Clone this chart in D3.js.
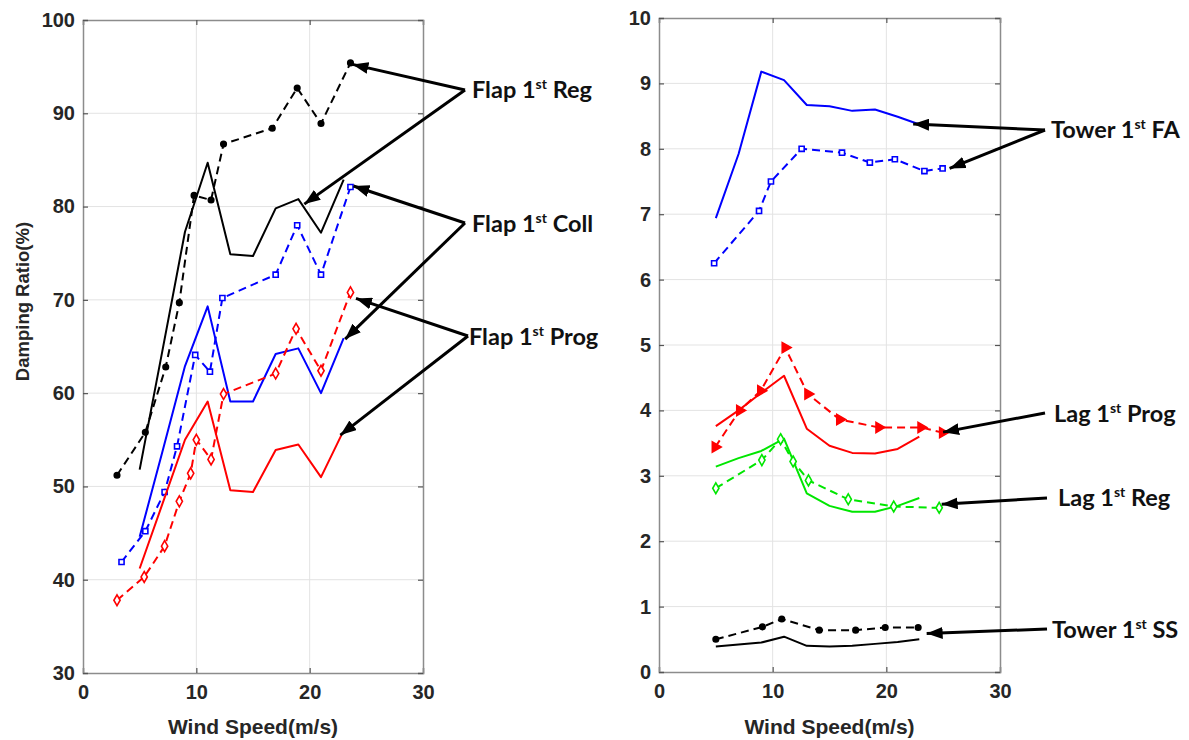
<!DOCTYPE html>
<html><head><meta charset="utf-8">
<script src="https://cdn.jsdelivr.net/npm/d3@7"></script>
<style>
html,body{margin:0;padding:0;background:#fff;}
svg{display:block;}
</style></head>
<body>
<svg id="chart" width="1189" height="740"></svg>
<script>
// ---------- DATA (left panel: Damping Ratio %) ----------
const xTicks = [0, 10, 20, 30];
const leftYTicks = [30, 40, 50, 60, 70, 80, 90, 100];
const rightYTicks = [0,1,2,3,4,5,6,7,8,9,10];

const flapRegDashX  = [3, 5.5, 7.3, 8.5, 9.8, 11.3, 12.4, 16.7, 18.9, 21, 23.6];
const flapRegDashY  = [51.2, 55.8, 62.8, 69.7, 81.2, 80.7, 86.7, 88.4, 92.7, 88.9, 95.4];
const flapRegSolidX = [5, 7, 9, 11, 13, 15, 17, 19, 21, 23];
const flapRegSolidY = [51.8, 64.5, 77.3, 84.7, 74.9, 74.7, 79.8, 80.8, 77.2, 82.9];

const flapCollDashX  = [3.4, 5.5, 7.2, 8.3, 9.9, 11.2, 12.3, 17, 18.9, 21, 23.6];
const flapCollDashY  = [41.9, 45.2, 49.4, 54.3, 64.1, 62.3, 70.2, 72.7, 78.0, 72.7, 82.1];
const flapCollSolidX = [5, 7, 9, 11, 13, 15, 17, 19, 21, 23];
const flapCollSolidY = [44.6, 53.7, 62.9, 69.3, 59.1, 59.1, 64.2, 64.8, 60.0, 65.9];

const flapProgDashX  = [3, 5.4, 7.2, 8.5, 9.5, 10, 11.3, 12.4, 17, 18.8, 21, 23.6];
const flapProgDashY  = [37.8, 40.3, 43.6, 48.4, 51.4, 55.0, 52.9, 59.9, 62.1, 66.9, 62.4, 70.8];
const flapProgSolidX = [5, 7, 9, 11, 13, 15, 17, 19, 21, 22.8];
const flapProgSolidY = [41.2, 48.1, 55.0, 59.1, 49.6, 49.4, 53.9, 54.5, 51.0, 55.5];

// ---------- DATA (right panel) ----------
const towerFASolidX = [5, 7, 9, 11, 13, 15, 17, 19, 21, 22.8];
const towerFASolidY = [6.94, 7.92, 9.18, 9.05, 8.67, 8.65, 8.58, 8.60, 8.49, 8.38];
const towerFADashX  = [4.85, 8.8, 9.85, 12.55, 16.1, 18.55, 20.75, 23.35, 24.95];
const towerFADashY  = [6.25, 7.05, 7.50, 8.00, 7.94, 7.79, 7.84, 7.66, 7.70];

const lagProgSolidX = [5, 7, 9, 11, 13, 15, 17, 19, 21, 22.9];
const lagProgSolidY = [3.76, 4.00, 4.27, 4.53, 3.72, 3.46, 3.35, 3.34, 3.41, 3.60];
const lagProgDashX  = [4.95, 7.1, 8.95, 11.1, 13.1, 15.9, 19.35, 23.05, 24.95];
const lagProgDashY  = [3.44, 4.00, 4.30, 4.96, 4.25, 3.86, 3.74, 3.74, 3.66];

const lagRegSolidX = [5, 7, 9, 11, 13, 15, 17, 19, 21, 22.9];
const lagRegSolidY = [3.14, 3.27, 3.38, 3.57, 2.73, 2.54, 2.45, 2.45, 2.54, 2.66];
const lagRegDashX  = [5, 9.05, 10.7, 11.8, 13.15, 16.65, 20.65, 24.65];
const lagRegDashY  = [2.81, 3.24, 3.56, 3.22, 2.93, 2.64, 2.53, 2.51];

const towerSSSolidX = [5, 7, 9, 11, 13, 15, 17, 19, 21, 22.9];
const towerSSSolidY = [0.39, 0.42, 0.45, 0.54, 0.40, 0.39, 0.40, 0.43, 0.46, 0.50];
const towerSSDashX  = [5, 9.1, 10.8, 14.1, 17.3, 19.9, 22.8];
const towerSSDashY  = [0.50, 0.69, 0.81, 0.64, 0.64, 0.68, 0.68];

const labelNames = ["Flap", "Flap", "Flap", "Tower", "Lag", "Lag", "Tower"];
const labelTails = ["Reg", "Coll", "Prog", "FA", "Prog", "Reg", "SS"];

// ---------- RENDER ----------
const svg = d3.select("#chart");
const zip = (xs, ys) => xs.map((x, i) => [x, ys[i]]);
const AXFONT = "Arial, 'Liberation Sans', Helvetica, sans-serif";

const defs = svg.append("defs");
defs.append("marker").attr("id", "arrow")
  .attr("markerUnits", "userSpaceOnUse")
  .attr("viewBox", "0 0 16 12").attr("refX", 16).attr("refY", 6)
  .attr("markerWidth", 16).attr("markerHeight", 12).attr("orient", "auto")
  .append("path").attr("d", "M0,0 L16,6 L0,12 Z").attr("fill", "#000");

function panel(cfg) {
  const x = d3.scaleLinear().domain([0, 30]).range([cfg.x0, cfg.x1]);
  const y = d3.scaleLinear().domain(cfg.yDomain).range([cfg.y0, cfg.y1]);
  const g = svg.append("g");
  // grid
  g.append("g").selectAll("line").data(xTicks.slice(1, -1)).join("line")
    .attr("x1", d => x(d)).attr("x2", d => x(d)).attr("y1", cfg.y0).attr("y2", cfg.y1)
    .attr("stroke", "#e3e3e3").attr("stroke-width", 1);
  g.append("g").selectAll("line").data(cfg.yTicks.slice(1, -1)).join("line")
    .attr("y1", d => y(d)).attr("y2", d => y(d)).attr("x1", cfg.x0).attr("x2", cfg.x1)
    .attr("stroke", "#e3e3e3").attr("stroke-width", 1);
  // axes via d3
  const tk = 5;
  const ax = g.append("g").attr("transform", `translate(0,${cfg.y0})`)
    .call(d3.axisBottom(x).tickValues(xTicks).tickSize(-tk).tickPadding(12).tickFormat(d3.format("d")));
  const axT = g.append("g").attr("transform", `translate(0,${cfg.y1})`)
    .call(d3.axisTop(x).tickValues(xTicks).tickSize(-tk).tickFormat(""));
  const ay = g.append("g").attr("transform", `translate(${cfg.x0},0)`)
    .call(d3.axisLeft(y).tickValues(cfg.yTicks).tickSize(-tk).tickPadding(8).tickFormat(d3.format("d")));
  const ayR = g.append("g").attr("transform", `translate(${cfg.x1},0)`)
    .call(d3.axisRight(y).tickValues(cfg.yTicks).tickSize(-tk).tickFormat(""));
  [ax, axT, ay, ayR].forEach(a => {
    a.attr("font-family", AXFONT).attr("font-size", 20).attr("font-weight", "bold");
    a.select(".domain").attr("stroke", "#8c8c8c").attr("stroke-width", 1.5);
    a.selectAll(".tick line").attr("stroke", "#555").attr("stroke-width", 1.2);
    a.selectAll("text").attr("fill", "#262626");
  });
  ax.selectAll("text").attr("dy", "0.71em");
  // x label
  g.append("text").attr("x", (cfg.x0 + cfg.x1) / 2).attr("y", 734)
    .attr("text-anchor", "middle").attr("fill", "#262626")
    .attr("font-family", AXFONT).attr("font-weight", "bold").attr("font-size", 21)
    .text("Wind Speed(m/s)");
  if (cfg.yLabel) {
    g.append("text").attr("transform", `translate(29,${(cfg.y0 + cfg.y1) / 2 - 45}) rotate(-90)`)
      .attr("text-anchor", "middle").attr("fill", "#262626")
      .attr("font-family", AXFONT).attr("font-weight", "bold").attr("font-size", 18.5)
      .text(cfg.yLabel);
  }
  const line = d3.line().x(d => x(d[0])).y(d => y(d[1]));
  const plot = g.append("g");
  cfg.series.forEach(s => {
    const pts = zip(s.xs, s.ys);
    plot.append("path").attr("d", line(pts)).attr("fill", "none")
      .attr("stroke", s.color).attr("stroke-width", 2)
      .attr("stroke-dasharray", s.dash ? "8,5" : null)
      .attr("stroke-linejoin", "round");
    if (s.marker) {
      const sym = d3.symbol().type(s.marker).size(s.msize);
      plot.selectAll(null).data(pts).join("path")
        .attr("transform", d => `translate(${x(d[0])},${y(d[1])}) rotate(${s.rot || 0})`)
        .attr("d", sym())
        .attr("fill", s.fill ? s.color : "#fff")
        .attr("stroke", s.color).attr("stroke-width", 1.6);
    }
  });
  return {x, y, g};
}

const L = panel({
  x0: 83, x1: 423, y0: 673, y1: 20, yDomain: [30, 100], yTicks: leftYTicks,
  yLabel: "Damping Ratio(%)",
  series: [
    {xs: flapRegSolidX, ys: flapRegSolidY, color: "#000"},
    {xs: flapRegDashX, ys: flapRegDashY, color: "#000", dash: true, marker: d3.symbolCircle, msize: 24, fill: true},
    {xs: flapCollSolidX, ys: flapCollSolidY, color: "#0000ff"},
    {xs: flapCollDashX, ys: flapCollDashY, color: "#0000ff", dash: true, marker: d3.symbolSquare, msize: 26},
    {xs: flapProgSolidX, ys: flapProgSolidY, color: "#ff0000"},
    {xs: flapProgDashX, ys: flapProgDashY, color: "#ff0000", dash: true, marker: d3.symbolDiamond, msize: 34},
  ]
});

const R = panel({
  x0: 659, x1: 1000, y0: 672, y1: 18, yDomain: [0, 10], yTicks: rightYTicks,
  series: [
    {xs: towerFASolidX, ys: towerFASolidY, color: "#0000ff"},
    {xs: towerFADashX, ys: towerFADashY, color: "#0000ff", dash: true, marker: d3.symbolSquare, msize: 26},
    {xs: lagProgSolidX, ys: lagProgSolidY, color: "#ff0000"},
    {xs: lagProgDashX, ys: lagProgDashY, color: "#ff0000", dash: true, marker: d3.symbolTriangle, msize: 45, fill: true, rot: 90},
    {xs: lagRegSolidX, ys: lagRegSolidY, color: "#00e600"},
    {xs: lagRegDashX, ys: lagRegDashY, color: "#00e600", dash: true, marker: d3.symbolDiamond, msize: 34},
    {xs: towerSSSolidX, ys: towerSSSolidY, color: "#000"},
    {xs: towerSSDashX, ys: towerSSDashY, color: "#000", dash: true, marker: d3.symbolCircle, msize: 24, fill: true},
  ]
});

// ---------- annotations ----------
const last = (xs, ys) => [xs[xs.length - 1], ys[ys.length - 1]];
const ann = [
  {i: 0, P: L, vx: 465, vy: 90, tx: 472, ty: 98, tips: [[last(flapRegDashX, flapRegDashY), 2, 1.5], [[flapRegSolidX[7], flapRegSolidY[7]], 6, 5]]},
  {i: 1, P: L, vx: 465, vy: 223, tx: 472, ty: 232, tips: [[last(flapCollDashX, flapCollDashY), 3, -1], [last(flapCollSolidX, flapCollSolidY), 1.5, 1]]},
  {i: 2, P: L, vx: 468, vy: 336, tx: 469, ty: 345, tips: [[last(flapProgDashX, flapProgDashY), 5.5, 6], [last(flapProgSolidX, flapProgSolidY), -1, 0]]},
  {i: 3, P: R, vx: 1045, vy: 130, tx: 1051, ty: 138, tips: [[last(towerFASolidX, towerFASolidY), -5, 0], [last(towerFADashX, towerFADashY), 7, 0]]},
  {i: 4, P: R, vx: 1045, vy: 413, tx: 1054, ty: 422, tips: [[last(lagProgDashX, lagProgDashY), 0.5, -0.5]]},
  {i: 5, P: R, vx: 1047, vy: 498, tx: 1058, ty: 506, tips: [[last(lagRegDashX, lagRegDashY), 2.5, -3.5]]},
  {i: 6, P: R, vx: 1047, vy: 629, tx: 1052, ty: 638, tips: [[last(towerSSDashX, towerSSDashY), 8.5, 6]]},
];
const ag = svg.append("g");
ann.forEach(a => {
  a.tips.forEach(([pt, dx, dy]) => {
    ag.append("line").attr("x1", a.vx).attr("y1", a.vy)
      .attr("x2", a.P.x(pt[0]) + dx).attr("y2", a.P.y(pt[1]) + dy)
      .attr("stroke", "#000").attr("stroke-width", 3).attr("marker-end", "url(#arrow)");
  });
  const t = ag.append("text").attr("x", a.tx).attr("y", a.ty).attr("fill", "#111")
    .attr("font-family", "Lato, 'Open Sans', sans-serif").attr("font-weight", "bold").attr("font-size", 23.5);
  t.append("tspan").text(labelNames[a.i] + " 1");
  t.append("tspan").attr("dy", -9).attr("font-size", 14).text("st");
  t.append("tspan").attr("dy", 9).text(" " + labelTails[a.i]);
});
</script>
</body></html>
